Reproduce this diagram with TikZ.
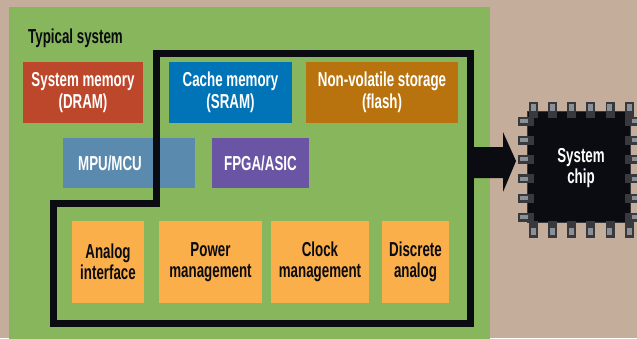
\documentclass[tikz,border=0pt]{standalone}
\usepackage{fontspec}
\setmainfont{Liberation Sans}[FakeStretch=0.66]
\definecolor{tanbg}{HTML}{C4AE9B}
\definecolor{panel}{HTML}{87B65C}
\definecolor{dramc}{HTML}{BD472B}
\definecolor{sramc}{HTML}{0174B8}
\definecolor{flashc}{HTML}{B8730F}
\definecolor{mpuc}{HTML}{5B8AAF}
\definecolor{fpgac}{HTML}{6A55A5}
\definecolor{anac}{HTML}{FBAF4B}
\definecolor{inkc}{HTML}{0B0B12}
\definecolor{pinout}{HTML}{38383D}
\definecolor{pinin}{HTML}{8A9096}
\begin{document}
\begin{tikzpicture}[x=1pt,y=-1pt,
  txt/.style={font=\bfseries\fontsize{20.2}{21.5}\selectfont, align=center},
  cbox/.style={txt, text=white, inner sep=0pt, minimum height=61pt},
  mbox/.style={inner sep=0pt, minimum height=50pt},
  obox/.style={txt, text=inkc, fill=anac, inner sep=0pt, minimum height=82pt},
]
\useasboundingbox (0,0) rectangle (637,338);
\fill[tanbg] (0,0) rectangle (637,338);
\fill[panel] (9,7) rectangle (490,340);

\node[txt, text=inkc, anchor=base west, inner sep=0pt] (title) at (28,43) {Typical system};

\node[cbox, fill=dramc, minimum width=120pt] (dram) at (83,92.5) {System memory\\(DRAM)};
\node[cbox, fill=sramc, minimum width=123pt] (sram) at (230.5,92.5) {Cache memory\\(SRAM)};
\node[cbox, fill=flashc, minimum width=152pt] (flash) at (382,92.5) {Non-volatile storage\\(flash)};

\node[mbox, fill=mpuc, minimum width=132pt] (mpu) at (129,163) {};
\node[txt, text=white] (mputxt) at (110,163) {MPU/MCU};
\node[mbox, fill=fpgac, minimum width=97pt, txt, text=white, inner sep=0pt] (fpga) at (260.5,163) {FPGA/ASIC};

\node[obox, minimum width=72pt] (ana) at (108,262) {Analog\\interface};
\node[obox, minimum width=103pt] (pwr) at (210.5,262) {Power\\management};
\node[obox, minimum width=98pt] (clk) at (320,262) {Clock\\management};
\node[obox, minimum width=67pt] (disc) at (415.5,262) {Discrete\\analog};

% chip boundary
\draw[inkc, line width=7pt, line join=miter] (156,203.5) -- (156,53.5) -- (470.5,53.5) -- (470.5,323) -- (53.5,323) -- (53.5,203.5) -- cycle;

% arrow
\fill[inkc] (470,147) -- (503,147) -- (503,132) -- (516,161) -- (503,192) -- (503,178) -- (470,178) -- cycle;

% chip
\node[fill=inkc, draw=pinout, line width=0.8pt, minimum width=103pt, minimum height=111pt, inner sep=0pt] (chip) at (578.5,166.5) {};
\foreach \c in {533,552.2,571.4,590.6,609.8,629}{
  \filldraw[fill=pinout, draw=pinout] (\c-4,102) rectangle (\c+4,117);
  \fill[pinin] (\c-2.5,104) rectangle (\c+2.5,110.5);
  \filldraw[fill=pinout, draw=pinout] (\c-4,221) rectangle (\c+4,237);
  \fill[pinin] (\c-2.5,228) rectangle (\c+2.5,235);
}
\foreach \r in {121,140.2,159.4,178.6,197.8,217}{
  \filldraw[fill=pinout, draw=pinout] (518,\r-4) rectangle (533,\r+4);
  \fill[pinin] (520,\r-2) rectangle (527.5,\r+2);
  \filldraw[fill=pinout, draw=pinout] (625,\r-4) rectangle (642,\r+4);
  \fill[pinin] (631.5,\r-2) rectangle (640,\r+2);
}
\node[txt, text=white] (chiptxt) at (581,168) {System\\chip};
\end{tikzpicture}
\end{document}
